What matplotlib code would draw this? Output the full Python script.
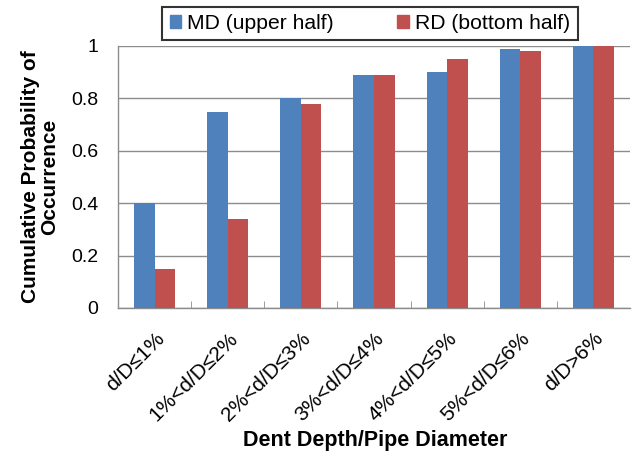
import matplotlib
matplotlib.use("Agg")
import matplotlib.pyplot as plt
from matplotlib.patches import Patch
import numpy as np

plt.rcParams['font.family'] = ['Liberation Sans', 'DejaVu Sans']

categories = ["d/D≤1%", "1%<d/D≤2%", "2%<d/D≤3%", "3%<d/D≤4%",
              "4%<d/D≤5%", "5%<d/D≤6%", "d/D>6%"]
md_upper = [0.40, 0.75, 0.80, 0.89, 0.90, 0.99, 1.00]
rd_bottom = [0.15, 0.34, 0.78, 0.89, 0.95, 0.98, 1.00]
series_names = ["MD (upper half)", "RD (bottom half)"]
yticks = [0, 0.2, 0.4, 0.6, 0.8, 1]
ytick_labels = ["0", "0.2", "0.4", "0.6", "0.8", "1"]

blue = "#4F81BD"
red = "#C0504D"

fig = plt.figure(figsize=(6.41, 4.55), dpi=100)
ax = fig.add_axes([118/641, 1-308/455, (630-118)/641, (308-46)/455])

x = np.arange(len(categories))
w = 0.282
ax.bar(x - w/2, md_upper, width=w, color=blue, zorder=3)
ax.bar(x + w/2, rd_bottom, width=w, color=red, zorder=3)

ax.set_xlim(-0.5, len(categories) - 0.5)
ax.set_ylim(0, 1)
ax.set_yticks(yticks)
ax.set_yticklabels(ytick_labels, fontsize=14)
ax.yaxis.grid(True, color="#8C8C8C", linewidth=1, zorder=0)
ax.set_axisbelow(True)

for s in ["top", "right"]:
    ax.spines[s].set_visible(False)
for s in ["left", "bottom"]:
    ax.spines[s].set_color("#8C8C8C")
    ax.spines[s].set_linewidth(1)

ax.tick_params(axis='y', length=0, pad=14)
ax.set_xticks(x)
ax.set_xticklabels(categories, fontsize=15, rotation=45, ha='right', va='top',
                   rotation_mode='anchor')
ax.tick_params(axis='x', length=0, pad=15)
ax.set_xticks(np.arange(len(categories) - 1) + 0.5, minor=True)
ax.tick_params(axis='x', which='minor', length=5, direction='in', color="#8C8C8C")

ax.set_xlabel("Dent Depth/Pipe Diameter", fontsize=15.5, fontweight='bold')
ax.xaxis.set_label_coords((375.5 - 118) / (630 - 118), (308 - 430) / 262)
ax.set_ylabel("Cumulative Probability of\nOccurrence", fontsize=15,
              fontweight='bold', labelpad=9, linespacing=1.0)

handles = [Patch(color=blue), Patch(color=red)]
leg = fig.legend(handles, series_names, loc='center', ncol=2,
                 bbox_to_anchor=((157+583)/2/641, 1-23.5/455),
                 fontsize=15.2, frameon=True, fancybox=False,
                 handlelength=0.55, handleheight=0.55, handletextpad=0.3,
                 columnspacing=3.0, borderpad=0.35, borderaxespad=0)
leg.get_frame().set_edgecolor("black")
leg.get_frame().set_linewidth(1.5)

fig.savefig("out.png", dpi=100)
